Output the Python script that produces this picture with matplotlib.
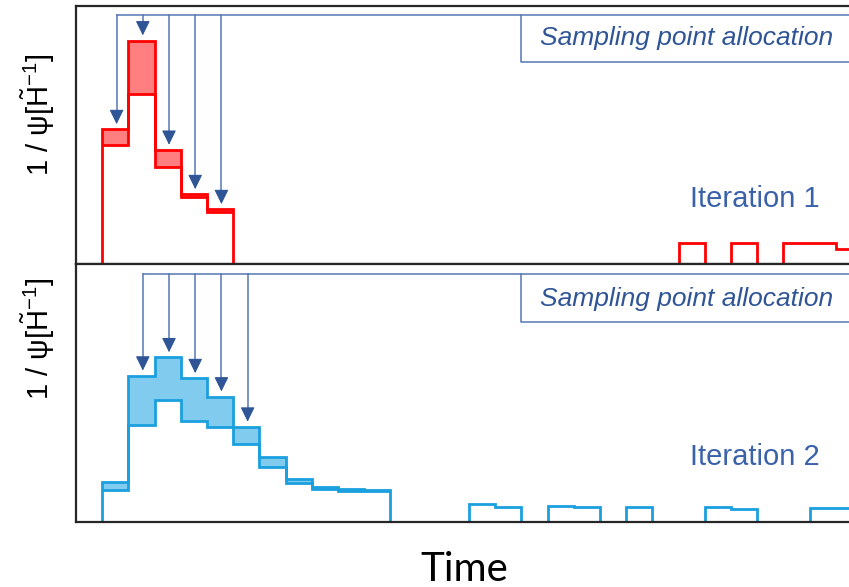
import numpy as np
import matplotlib.pyplot as plt

plt.rcParams['mathtext.fontset'] = 'custom'
plt.rcParams['mathtext.rm'] = 'Liberation Sans'

# bin index 0..28, one time slot per bin
edges = np.arange(0, 30)

# iteration 1: upper / lower bound of 1/psi per bin
upper_1 = [52.2, 86.6, 44.2, 27.0, 21.2, 0, 0, 0, 0, 0, 0, 0, 0, 0, 0, 0, 0, 0, 0, 0,
           0, 0, 8.0, 0, 8.0, 0, 8.2, 8.0, 5.9]
lower_1 = [46.1, 65.8, 37.7, 26.1, 20.3]
picked_1 = [0, 1, 2, 3, 4]

# iteration 2
upper_2 = [15.4, 56.7, 63.8, 55.7, 48.6, 36.9, 25.1, 16.7, 13.7, 12.9, 12.3, 0, 0, 0,
           7.1, 5.8, 0, 6.2, 5.9, 0, 6.0, 0, 0, 5.9, 5.0, 0, 0, 5.5, 5.3]
lower_2 = [12.4, 37.6, 47.3, 39.0, 36.9, 30.4, 21.4, 15.0, 12.7, 12.1, 11.9]
picked_2 = [1, 2, 3, 4, 5]

label_txt = 'Sampling point allocation'
ylabel_txt = r'1 / ψ[$\tilde{\mathrm{H}}^{-1}$]'

navy = '#2F5597'
shaft = '#5576B5'
txt_blue = '#3A62AA'

fig = plt.figure(figsize=(8.49, 5.87), dpi=100)
ax1 = fig.add_axes([0.0895, 0.5503, 0.9105, 0.4395])
ax2 = fig.add_axes([0.0895, 0.1107, 0.9105, 0.4395])


def draw_panel(ax, upper, lower, picked, edge_c, fill_c, line_y, box_y, it_name):
    n = len(lower)
    ax.stairs(upper[:n], edges[:n + 1], baseline=lower, fill=True, color=fill_c, lw=0)
    ax.stairs(upper, edges, baseline=0, color=edge_c, lw=2)
    ax.stairs(lower, edges[:n + 1], baseline=None, color=edge_c, lw=2)

    # allocation arrows
    xs = [i + 0.55 for i in picked]
    ax.plot([xs[0], 28.5], [line_y, line_y], color=shaft, lw=1.1)
    for i, x in zip(picked, xs):
        tip = upper[i] + 2.0
        ax.plot([x, x], [line_y, tip + 3], color=shaft, lw=1.1)
        ax.annotate('', xy=(x, tip), xytext=(0, 9), textcoords='offset points',
                    arrowprops=dict(arrowstyle='-|>,head_length=0.45,head_width=0.22',
                                    mutation_scale=20, color=navy, lw=0.8,
                                    shrinkA=0, shrinkB=0))
    ax.plot([16.0, 16.0, 28.5], [line_y, box_y, box_y], color=shaft, lw=1.1)
    ax.text(22.3, box_y + 6.3, label_txt, style='italic', ha='center', va='baseline',
            fontsize=19, color=navy, family='Liberation Sans')
    ax.text(24.9, 22.2, it_name, ha='center', va='baseline', fontsize=21,
            color=txt_blue, family='Liberation Sans')

    ax.set_xlim(-1, 28.5)
    ax.set_ylim(0, 100)
    ax.set_xticks([])
    ax.set_yticks([])
    ax.spines['right'].set_visible(False)
    for s in ['left', 'top', 'bottom']:
        ax.spines[s].set_linewidth(1.6)
        ax.spines[s].set_color('#262626')


draw_panel(ax1, upper_1, lower_1, picked_1, '#FF0000', '#FF7F80', 96.6, 78.4, 'Iteration 1')
draw_panel(ax2, upper_2, lower_2, picked_2, '#1AA0DE', '#80CBEE', 96.1, 77.4, 'Iteration 2')

fig.text(0.0445, 0.804, ylabel_txt, rotation=90, ha='center', va='center',
         fontsize=21, family='Liberation Sans')
fig.text(0.0445, 0.4225, ylabel_txt, rotation=90, ha='center', va='center',
         fontsize=21, family='Liberation Sans')
fig.text(0.5465, 0.0107, 'Time', ha='center', va='baseline', fontsize=29, family='Lato')

fig.savefig('out.png', dpi=100)
